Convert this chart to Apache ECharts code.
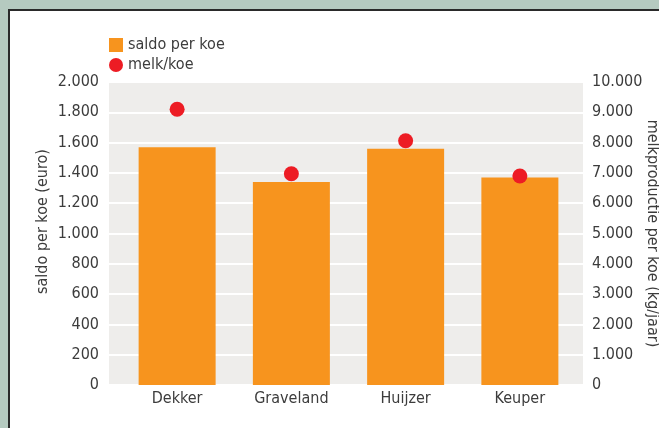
<!DOCTYPE html>
<html>
<head>
<meta charset="utf-8">
<script src="https://cdn.jsdelivr.net/npm/echarts@6/dist/echarts.min.js"></script>
<style>
  html, body { margin: 0; padding: 0; background: #b5cac0; }
  .frame {
    position: absolute; left: 8px; top: 9px; width: 700px; height: 500px;
    background: #fff; border-left: 2px solid #2a2a2a; border-top: 2px solid #2a2a2a;
  }
  #main { position: absolute; left: 0; top: 0; width: 659px; height: 428px; }
</style>
</head>
<body>
<div class="frame"></div>
<div id="main"></div>
<script>
// chart data
const categories = ["Dekker", "Graveland", "Huijzer", "Keuper"];
const saldo = [1570, 1340, 1560, 1370];
const melk = [9100, 6970, 8060, 6900];
const leftTicks = { min: 0, max: 2000, interval: 200 };
const rightTicks = { min: 0, max: 10000, interval: 1000 };

const font = "'Liberation Sans Narrow', 'DejaVu Sans Condensed', sans-serif";
const textColor = "#3c3c3c";
const fs = 16;

function dots(v) {
  return String(v).replace(/\B(?=(\d{3})+(?!\d))/g, ".");
}

let myChart = echarts.init(document.getElementById("main"));
let option = {
  animation: false,
  textStyle: { fontFamily: font },
  legend: {
    orient: "vertical",
    left: 109,
    top: 37,
    padding: 0,
    itemWidth: 14,
    itemHeight: 14,
    itemGap: 4,
    textStyle: { fontFamily: font, fontSize: fs, color: textColor },
    data: [
      { name: "saldo per koe", icon: "rect" },
      { name: "melk/koe", icon: "circle" }
    ]
  },
  grid: [
    { left: 109, right: 76, top: 82, bottom: 43, show: true, backgroundColor: "#eeedeb", borderWidth: 0, outerBoundsMode: "none" },
    { left: 120, right: 82, top: 82, bottom: 43, outerBoundsMode: "none" }
  ],
  xAxis: [
    { gridIndex: 0, type: "category", data: categories, show: false },
    {
      gridIndex: 1,
      type: "category",
      data: categories,
      axisLine: { show: false },
      axisTick: { show: false },
      axisLabel: { color: textColor, fontSize: fs, fontFamily: font, margin: 6 }
    }
  ],
  yAxis: [
    {
      gridIndex: 0,
      type: "value",
      min: leftTicks.min,
      max: leftTicks.max,
      interval: leftTicks.interval,
      name: "saldo per koe (euro)",
      nameLocation: "middle",
      nameGap: 58,
      nameMoveOverlap: false,
      nameTextStyle: { color: textColor, fontSize: fs, fontFamily: font, padding: [0, 0, 0, 24] },
      axisLine: { show: false },
      axisTick: { show: false },
      axisLabel: { color: textColor, fontSize: fs, fontFamily: font, margin: 10, formatter: dots },
      splitLine: { lineStyle: { color: "#ffffff", width: 2 } }
    },
    {
      gridIndex: 0,
      type: "value",
      position: "right",
      min: rightTicks.min,
      max: rightTicks.max,
      interval: rightTicks.interval,
      name: "melkproductie per koe (kg/jaar)",
      nameLocation: "middle",
      nameGap: 61,
      nameRotate: -90,
      nameMoveOverlap: false,
      nameTextStyle: { color: textColor, fontSize: fs, fontFamily: font },
      axisLine: { show: false },
      axisTick: { show: false },
      axisLabel: { color: textColor, fontSize: fs, fontFamily: font, margin: 9, formatter: dots },
      splitLine: { show: false }
    },
    { gridIndex: 1, type: "value", min: leftTicks.min, max: leftTicks.max, show: false },
    { gridIndex: 1, type: "value", min: rightTicks.min, max: rightTicks.max, show: false }
  ],
  series: [
    {
      name: "saldo per koe",
      type: "bar",
      xAxisIndex: 1,
      yAxisIndex: 2,
      barWidth: 77,
      itemStyle: { color: "#f7941e" },
      data: saldo
    },
    {
      name: "melk/koe",
      type: "scatter",
      xAxisIndex: 1,
      yAxisIndex: 3,
      symbolSize: 15,
      itemStyle: { color: "#ed1c24", opacity: 1 },
      data: melk
    }
  ]
};
myChart.setOption(option);
</script>
</body>
</html>
